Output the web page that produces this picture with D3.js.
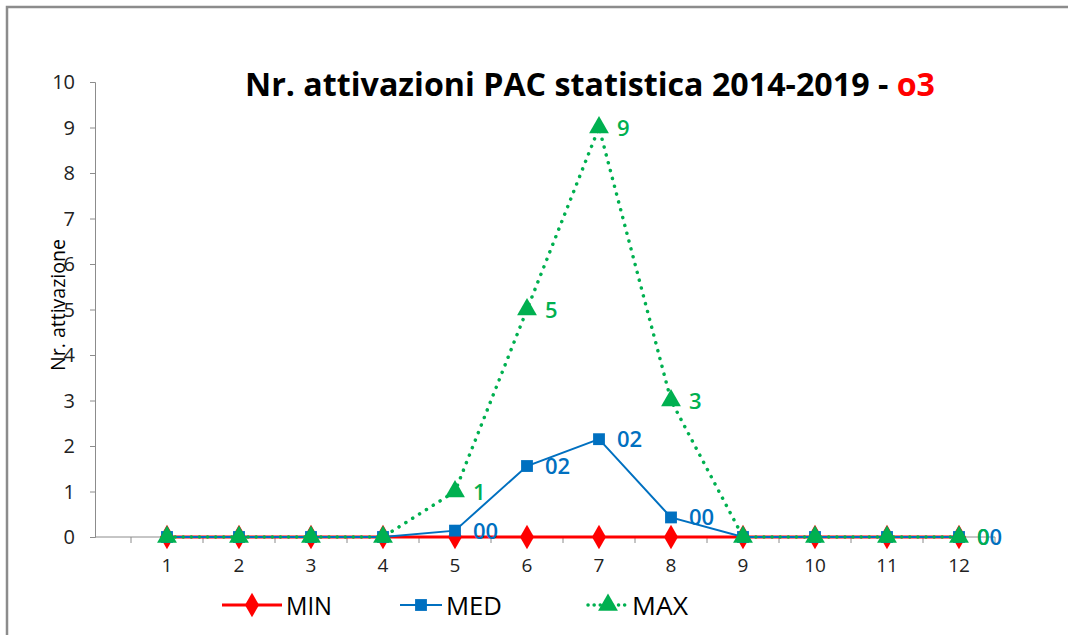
<!DOCTYPE html>
<html>
<head>
<meta charset="utf-8">
<script src="https://cdn.jsdelivr.net/npm/d3@7"></script>
<style>
  body { margin: 0; background: #fff; }
  text { font-family: "Open Sans", sans-serif; }
</style>
</head>
<body>
<svg width="1068" height="635"></svg>
<script>
var months = [1, 2, 3, 4, 5, 6, 7, 8, 9, 10, 11, 12];
var minVals = [0, 0, 0, 0, 0, 0, 0, 0, 0, 0, 0, 0];
var medVals = [0, 0, 0, 0, 0.14, 1.56, 2.15, 0.43, 0, 0, 0, 0];
var maxVals = [0, 0, 0, 0, 1, 5, 9, 3, 0, 0, 0, 0];
// value labels as shown in the chart (only some points carry one)
var medLabels = ["", "", "", "", "00", "02", "02", "00", "", "", "", "00"];
var maxLabels = ["", "", "", "", "1", "5", "9", "3", "", "", "", "0"];
var yTicks = [0, 1, 2, 3, 4, 5, 6, 7, 8, 9, 10];

var svg = d3.select("svg");

// frame of the original picture
svg.append("rect")
    .attr("x", 7).attr("y", 7).attr("width", 1100).attr("height", 700)
    .attr("fill", "none").attr("stroke", "#8c8c8c").attr("stroke-width", 2.5);

var x = d3.scaleLinear().domain([0, 12.5]).range([95, 995]),
    y = d3.scaleLinear().domain([0, 10]).range([537, 82]);

// title
var title = svg.append("text")
    .attr("x", 590).attr("y", 96)
    .attr("text-anchor", "middle")
    .style("font-size", "32px").style("font-weight", "bold")
    .attr("textLength", 690).attr("lengthAdjust", "spacingAndGlyphs");
title.append("tspan").attr("fill", "#000").text("Nr. attivazioni PAC statistica 2014-2019 - ");
title.append("tspan").attr("fill", "#ff0000").text("o3");

// y axis (labels drawn separately so the size is ours)
var yAxis = svg.append("g").attr("transform", "translate(95,0)")
    .call(d3.axisLeft(y).tickValues(yTicks).tickSize(5).tickFormat(""));
yAxis.select(".domain").attr("stroke", "#8c8c8c");
yAxis.selectAll(".tick line").attr("stroke", "#8c8c8c");
svg.selectAll(".ylab").data(yTicks).enter().append("text")
    .attr("x", 75).attr("y", function(d) { return y(d) + 7; })
    .attr("text-anchor", "end").attr("fill", "#222")
    .attr("font-size", 20)
    .text(function(d) { return d; });

// x axis: ticks between categories, labels centred on categories
var xAxis = svg.append("g").attr("transform", "translate(0,537)");
xAxis.append("line").attr("x1", x(0)).attr("x2", x(12.5))
    .attr("stroke", "#8c8c8c");
xAxis.selectAll(".xt").data(d3.range(0.5, 12.6, 1)).enter().append("line")
    .attr("x1", function(d) { return x(d); }).attr("x2", function(d) { return x(d); })
    .attr("y1", 0).attr("y2", 6).attr("stroke", "#8c8c8c");
xAxis.selectAll(".xl").data(months).enter().append("text")
    .attr("x", function(d) { return x(d); }).attr("y", 35)
    .attr("text-anchor", "middle").attr("fill", "#222")
    .attr("font-size", 19)
    .text(function(d) { return d; });

svg.append("text")
    .attr("transform", "translate(65,305) rotate(-90)")
    .attr("text-anchor", "middle").attr("fill", "#000")
    .attr("font-size", 20)
    .attr("textLength", 132).attr("lengthAdjust", "spacingAndGlyphs")
    .text("Nr. attivazione");

var line = d3.line()
    .x(function(d, i) { return x(months[i]); })
    .y(function(d) { return y(d); });

var series = [
  { name: "MIN", vals: minVals, color: "#ff0000", width: 3, dash: null, marker: d3.symbolDiamond, size: 170 },
  { name: "MED", vals: medVals, color: "#0070c0", width: 2, dash: null, marker: d3.symbolSquare, size: 140 },
  { name: "MAX", vals: maxVals, color: "#00b050", width: 3.5, dash: "0.1,8", marker: d3.symbolTriangle, size: 170 }
];

series.forEach(function(s) {
  svg.append("path").datum(s.vals)
      .attr("d", line).attr("fill", "none")
      .attr("stroke", s.color).attr("stroke-width", s.width)
      .attr("stroke-linecap", s.dash ? "round" : "butt")
      .attr("stroke-dasharray", s.dash);
  svg.selectAll(".m" + s.name).data(s.vals).enter().append("path")
      .attr("transform", function(d, i) { return "translate(" + x(months[i]) + "," + y(d) + ")"; })
      .attr("d", d3.symbol().type(s.marker).size(s.size))
      .attr("fill", s.color);
});

function labels(vals, texts, color) {
  svg.selectAll(null).data(vals).enter().append("text")
      .attr("x", function(d, i) { return x(months[i]) + 18; })
      .attr("y", function(d) { return y(d) + 8; })
      .attr("fill", color)
      .attr("font-size", 22).attr("font-weight", 600)
      .text(function(d, i) { return texts[i]; });
}
labels(medVals, medLabels, "#0070c0");
labels(maxVals, maxLabels, "#00b050");

// legend
var legend = svg.append("g").attr("transform", "translate(0,605)");
var legendPos = [[222, 282], [400, 442], [588, 628]];
series.forEach(function(s, i) {
  var p = legendPos[i];
  legend.append("line").attr("x1", p[0]).attr("x2", p[1])
      .attr("stroke", s.color).attr("stroke-width", s.width)
      .attr("stroke-linecap", s.dash ? "round" : "butt")
      .attr("stroke-dasharray", s.dash ? "0.1,6" : null);
  legend.append("path")
      .attr("transform", "translate(" + (p[0] + p[1]) / 2 + ",0)")
      .attr("d", d3.symbol().type(s.marker).size(s.size))
      .attr("fill", s.color);
  legend.append("text").attr("x", p[1] + 4).attr("y", 10)
      .attr("fill", "#000").attr("font-size", 25)
      .attr("textLength", i === 0 ? 46 : 56).attr("lengthAdjust", "spacingAndGlyphs")
      .text(s.name);
});
</script>
</body>
</html>
